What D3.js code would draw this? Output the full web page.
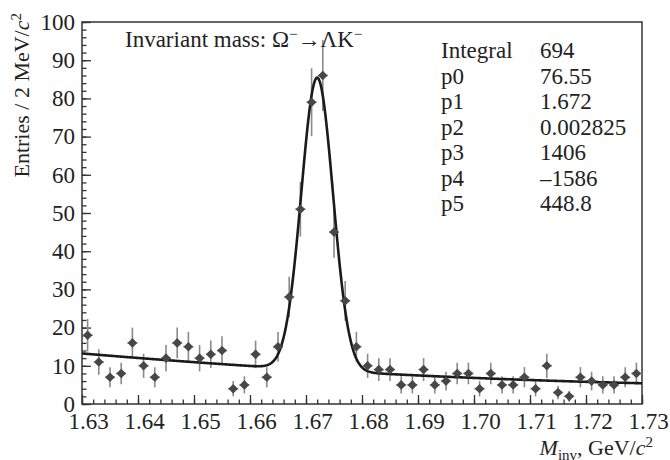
<!DOCTYPE html>
<html>
<head>
<meta charset="utf-8">
<script src="https://cdn.jsdelivr.net/npm/d3@7"></script>
<style>
body { margin: 0; background: #fff; }
text { font-family: "Liberation Serif", "Times New Roman", serif; fill: #222; }
</style>
</head>
<body>
<div id="chart"></div>
<script>
// histogram: 2 MeV bins from 1.63 to 1.73 GeV
var xDomain = [1.63, 1.73];
var binWidth = 0.002;
var counts = [18, 11, 7, 8, 16, 10, 7, 12, 16, 15,
              12, 13, 14, 4, 5, 13, 7, 15, 28, 51,
              79, 86, 45, 27, 15, 10, 9, 9, 5, 5,
              9, 5, 6, 8, 8, 4, 8, 5, 5, 7,
              4, 10, 3, 2, 7, 6, 5, 5, 7, 8];

// fit: gaus(p0,p1,p2) + pol2(p3,p4,p5)
var fitParams = [76.55, 1.672, 0.002825, 1406, -1586, 448.8];
var statLabels = ["Integral", "p0", "p1", "p2", "p3", "p4", "p5"];
var statValues = ["694", "76.55", "1.672", "0.002825", "1406", "\u20131586", "448.8"];

var xTicks = [1.63, 1.64, 1.65, 1.66, 1.67, 1.68, 1.69, 1.70, 1.71, 1.72, 1.73];
var yTicks = [0, 10, 20, 30, 40, 50, 60, 70, 80, 90, 100];

var width = 670, height = 460;
var plotL = 82, plotR = 642, plotT = 22, plotB = 404;

var svg = d3.select("#chart").append("svg")
    .attr("width", width)
    .attr("height", height);

var x = d3.scaleLinear().domain(xDomain).range([plotL, plotR]);
var y = d3.scaleLinear().domain([0, 100]).range([plotB, plotT]);

function fitFunc(m) {
    var p = fitParams;
    var g = p[0] * Math.exp(-0.5 * Math.pow((m - p[1]) / p[2], 2));
    return g + p[3] + p[4] * m + p[5] * m * m;
}

var bins = counts.map(function (c, i) {
    var lo = xDomain[0] + i * binWidth;
    return {lo: lo, hi: lo + binWidth, mid: lo + binWidth / 2, n: c, err: Math.sqrt(c)};
});

// minor ticks
var xMinor = d3.range(0, 51).map(function (i) { return xDomain[0] + i * binWidth; });
var yMinor = d3.range(0, 101, 2);

function styleAxis(g) {
    g.select(".domain").remove();
    g.selectAll(".tick line").attr("stroke", "#333").attr("stroke-width", 1.3);
    g.attr("font-family", null).attr("font-size", null);
}

svg.append("g")
    .attr("transform", "translate(0," + plotB + ")")
    .call(d3.axisBottom(x).tickValues(xMinor).tickSize(-4.5).tickFormat(""))
    .call(styleAxis);

var xAxisG = svg.append("g")
    .attr("transform", "translate(0," + plotB + ")")
    .call(d3.axisBottom(x).tickValues(xTicks).tickSize(-9).tickPadding(9)
        .tickFormat(d3.format(".2f")))
    .call(styleAxis);
xAxisG.selectAll("text")
    .style("font-size", "23px")
    .attr("dx", 6);

svg.append("g")
    .attr("transform", "translate(" + plotL + ",0)")
    .call(d3.axisLeft(y).tickValues(yMinor).tickSize(-4.5).tickFormat(""))
    .call(styleAxis);

var yAxisG = svg.append("g")
    .attr("transform", "translate(" + plotL + ",0)")
    .call(d3.axisLeft(y).tickValues(yTicks).tickSize(-9).tickPadding(7))
    .call(styleAxis);
yAxisG.selectAll("text")
    .style("font-size", "23px");

// frame
svg.append("rect")
    .attr("x", plotL).attr("y", plotT)
    .attr("width", plotR - plotL).attr("height", plotB - plotT)
    .attr("fill", "none")
    .attr("stroke", "#333")
    .attr("stroke-width", 1.5);

// error bars
var errG = svg.append("g").attr("stroke", "#8a8a8a").attr("stroke-width", 1.6);
errG.selectAll("line.v")
    .data(bins)
    .join("line")
    .attr("class", "v")
    .attr("x1", d => x(d.mid)).attr("x2", d => x(d.mid))
    .attr("y1", d => y(d.n - d.err)).attr("y2", d => y(d.n + d.err));
errG.selectAll("line.h")
    .data(bins)
    .join("line")
    .attr("class", "h")
    .attr("x1", d => x(d.lo) + 0.5).attr("x2", d => x(d.hi) - 0.5)
    .attr("y1", d => y(d.n)).attr("y2", d => y(d.n));

// fit curve
var fitX = d3.range(0, 801).map(function (i) {
    return xDomain[0] + (xDomain[1] - xDomain[0]) * i / 800;
});
svg.append("path")
    .datum(fitX)
    .attr("fill", "none")
    .attr("stroke", "#1a1a1a")
    .attr("stroke-width", 2.6)
    .attr("d", d3.line().x(d => x(d)).y(d => y(fitFunc(d))));

// markers
var r = 4.8;
svg.append("g").selectAll("path")
    .data(bins)
    .join("path")
    .attr("fill", "#474747")
    .attr("transform", d => "translate(" + x(d.mid) + "," + y(d.n) + ")")
    .attr("d", "M0," + (-r) + "L" + r + ",0L0," + r + "L" + (-r) + ",0Z");

// title
var title = svg.append("text")
    .attr("x", 125).attr("y", 47)
    .style("font-size", "23px");
title.append("tspan").text("Invariant mass: \u03A9");
title.append("tspan").attr("dy", -8).style("font-size", "15px").text("\u2212");
title.append("tspan").attr("dy", 8).text("\u2192\u039BK");
title.append("tspan").attr("dy", -8).style("font-size", "15px").text("\u2212");

// stats
var statG = svg.append("g").style("font-size", "23px");
statG.selectAll("text.lab")
    .data(statLabels)
    .join("text")
    .attr("class", "lab")
    .attr("x", 441)
    .attr("y", (d, i) => 58 + i * 25.5)
    .text(d => d);
statG.selectAll("text.val")
    .data(statValues)
    .join("text")
    .attr("class", "val")
    .attr("x", 540)
    .attr("y", (d, i) => 58 + i * 25.5)
    .text(d => d);

// y title
var yt = svg.append("text")
    .attr("transform", "translate(29,13) rotate(-90)")
    .attr("text-anchor", "end")
    .style("font-size", "22px");
yt.append("tspan").text("Entries / 2 MeV/");
yt.append("tspan").style("font-style", "italic").text("c");
yt.append("tspan").attr("dy", -8).style("font-size", "15px").text("2");

// x title
var xt = svg.append("text")
    .attr("x", 653).attr("y", 455)
    .attr("text-anchor", "end")
    .style("font-size", "22px");
xt.append("tspan").style("font-style", "italic").text("M");
xt.append("tspan").attr("dy", 5).style("font-size", "15px").text("inv");
xt.append("tspan").attr("dy", -5).text(", GeV/");
xt.append("tspan").style("font-style", "italic").text("c");
xt.append("tspan").attr("dy", -8).style("font-size", "15px").text("2");
</script>
</body>
</html>
